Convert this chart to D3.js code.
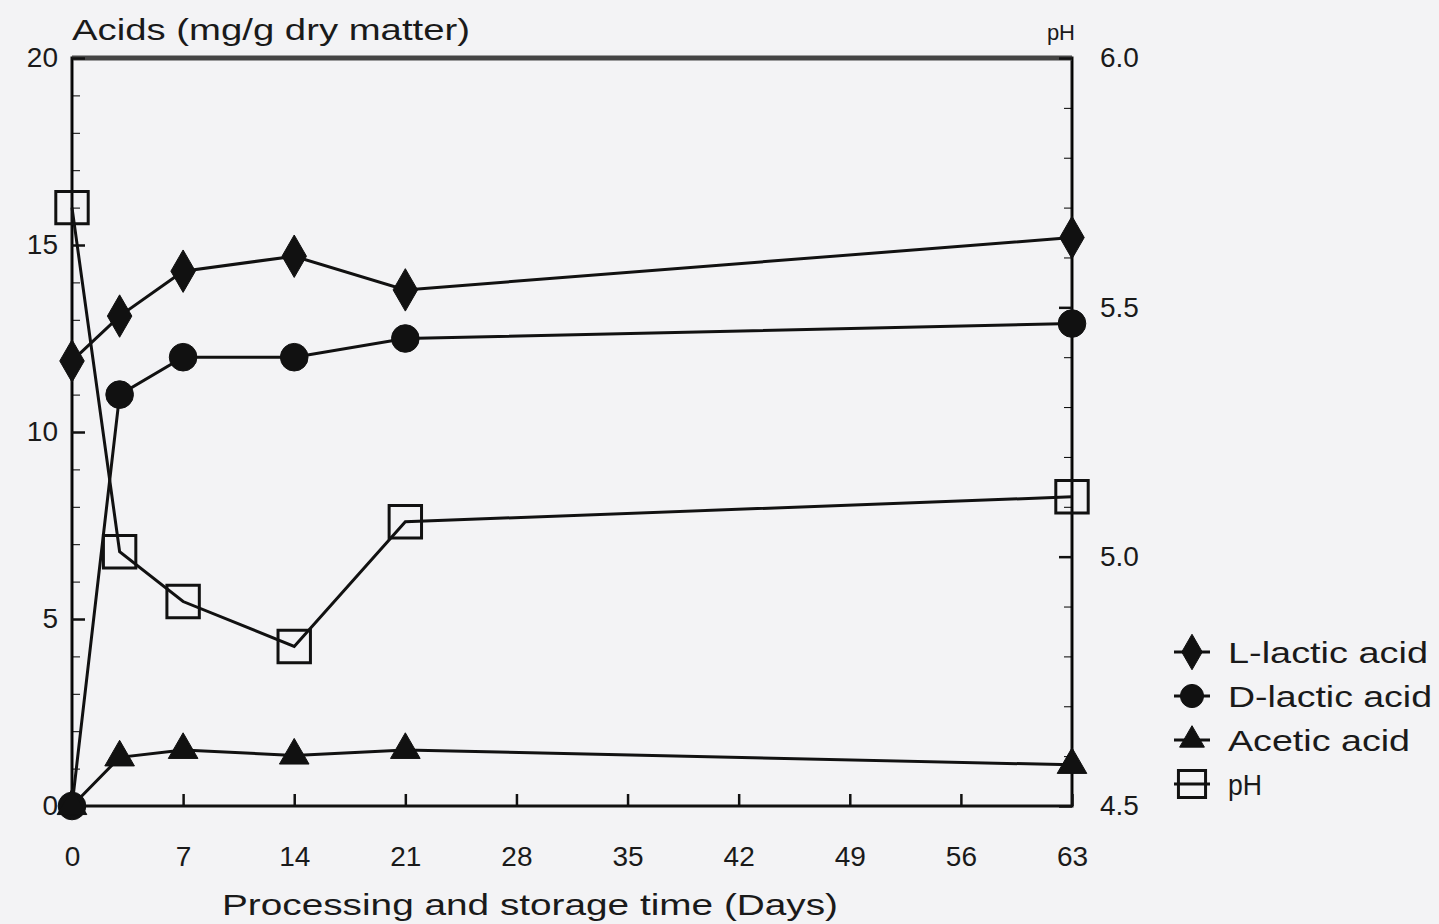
<!DOCTYPE html>
<html>
<head>
<meta charset="utf-8">
<script src="https://cdn.jsdelivr.net/npm/d3@7"></script>
<style>
  html, body { margin: 0; padding: 0; background: #f3f3f5; }
  svg { display: block; }
  text { font-family: "Liberation Sans", Arial, sans-serif; fill: #1a1a1a; }
</style>
</head>
<body>
<svg id="chart" width="1439" height="924"></svg>
<script>
// data
const days = [0, 3, 7, 14, 21, 63];
const lLactic = [11.9, 13.1, 14.3, 14.7, 13.8, 15.2];
const dLactic = [0, 11.0, 12.0, 12.0, 12.5, 12.9];
const acetic = [0, 1.3, 1.5, 1.35, 1.5, 1.1];
const pH = [5.70, 5.01, 4.91, 4.82, 5.07, 5.12];

const dayTicks = [0, 7, 14, 21, 28, 35, 42, 49, 56, 63];
const acidTicks = [0, 5, 10, 15, 20];
const phTicks = [4.5, 5.0, 5.5, 6.0];
const legendNames = ['L-lactic acid', 'D-lactic acid', 'Acetic acid', 'pH'];
const legendWidths = [200, 204, 182, 34];

const svg = d3.select('#chart');
const area = { left: 72, right: 1072, top: 58, bottom: 806 };

const x = d3.scaleLinear().domain([0, 63]).range([area.left, area.right]);
const yAcid = d3.scaleLinear().domain([0, 20]).range([area.bottom, area.top]);
const yPh = d3.scaleLinear().domain([4.5, 6.0]).range([area.bottom, area.top]);

// frame
svg.append('rect')
  .attr('x', area.left).attr('y', area.top)
  .attr('width', area.right - area.left).attr('height', area.bottom - area.top)
  .attr('fill', 'none').attr('stroke', '#111').attr('stroke-width', 3);
svg.append('line')
  .attr('x1', area.left).attr('x2', area.right).attr('y1', area.top).attr('y2', area.top)
  .attr('stroke', '#444').attr('stroke-width', 5);

// minor ticks
const minor = g => g.selectAll('.tick text').remove();
svg.append('g').attr('transform', `translate(${area.left},0)`)
  .call(d3.axisLeft(yAcid).tickValues(d3.range(0, 21, 1)).tickSizeInner(-8).tickSizeOuter(0))
  .call(minor);
svg.append('g').attr('transform', `translate(${area.right},0)`)
  .call(d3.axisRight(yPh).tickValues(d3.range(45, 61, 1).map(v => v / 10)).tickSizeInner(-8).tickSizeOuter(0))
  .call(minor);

// major axes
const styleAxis = (g, size) => {
  g.select('.domain').remove();
  g.selectAll('.tick line').attr('stroke', '#111').attr('stroke-width', 2.5);
  g.selectAll('.tick text').style('font-size', size + 'px').attr('fill', '#1a1a1a');
};
svg.append('g').attr('transform', `translate(${area.left},0)`)
  .call(d3.axisLeft(yAcid).tickValues(acidTicks).tickSizeInner(-13).tickSizeOuter(0).tickPadding(14))
  .call(g => styleAxis(g, 28));
svg.append('g').attr('transform', `translate(${area.right},0)`)
  .call(d3.axisRight(yPh).tickValues(phTicks).tickFormat(d3.format('.1f')).tickSizeInner(-13).tickSizeOuter(0).tickPadding(28))
  .call(g => styleAxis(g, 28));
svg.append('g').attr('transform', `translate(0,${area.bottom})`)
  .call(d3.axisBottom(x).tickValues(dayTicks).tickSizeInner(-12).tickSizeOuter(0).tickPadding(40))
  .call(g => styleAxis(g, 28));

// titles
svg.append('text').attr('x', 72).attr('y', 40).style('font-size', '29px')
  .attr('textLength', 398).attr('lengthAdjust', 'spacingAndGlyphs')
  .text('Acids (mg/g dry matter)');
svg.append('text').attr('x', 1075).attr('y', 40).attr('text-anchor', 'end').style('font-size', '22px').text('pH');
svg.append('text').attr('x', 222).attr('y', 915).style('font-size', '30px')
  .attr('textLength', 616).attr('lengthAdjust', 'spacingAndGlyphs')
  .text('Processing  and storage time (Days)');

// series
const series = [
  { values: lLactic, y: yAcid, symbol: d3.symbolDiamond, size: 520, fill: '#111' },
  { values: dLactic, y: yAcid, symbol: d3.symbolCircle, size: 600, fill: '#111' },
  { values: acetic, y: yAcid, symbol: d3.symbolTriangle, size: 380, fill: '#111' },
  { values: pH, y: yPh, symbol: d3.symbolSquare, size: 1050, fill: 'none' }
];

const line = d3.line();
series.forEach(s => {
  const pts = days.map((d, i) => [x(d), s.y(s.values[i])]);
  svg.append('path').attr('d', line(pts))
    .attr('fill', 'none').attr('stroke', '#111').attr('stroke-width', 3);
  svg.append('g').selectAll('path').data(pts).join('path')
    .attr('transform', p => `translate(${p[0]},${p[1]})`)
    .attr('d', d3.symbol().type(s.symbol).size(s.size))
    .attr('fill', s.fill).attr('stroke', '#111').attr('stroke-width', s.fill === 'none' ? 3 : 1);
});

// legend
const legend = svg.append('g').attr('transform', 'translate(1192,652)');
const rows = legend.selectAll('g').data(series).join('g')
  .attr('transform', (d, i) => `translate(0,${i * 44})`);
rows.append('line').attr('x1', -18).attr('x2', 18).attr('stroke', '#111').attr('stroke-width', 3);
rows.append('path')
  .attr('d', d => d3.symbol().type(d.symbol).size(d.size * 0.7)())
  .attr('fill', d => d.fill).attr('stroke', '#111').attr('stroke-width', d => d.fill === 'none' ? 3 : 1);
rows.append('text').attr('x', 36).attr('y', 11).style('font-size', '29px')
  .attr('textLength', (d, i) => legendWidths[i]).attr('lengthAdjust', 'spacingAndGlyphs')
  .text((d, i) => legendNames[i]);
</script>
</body>
</html>
